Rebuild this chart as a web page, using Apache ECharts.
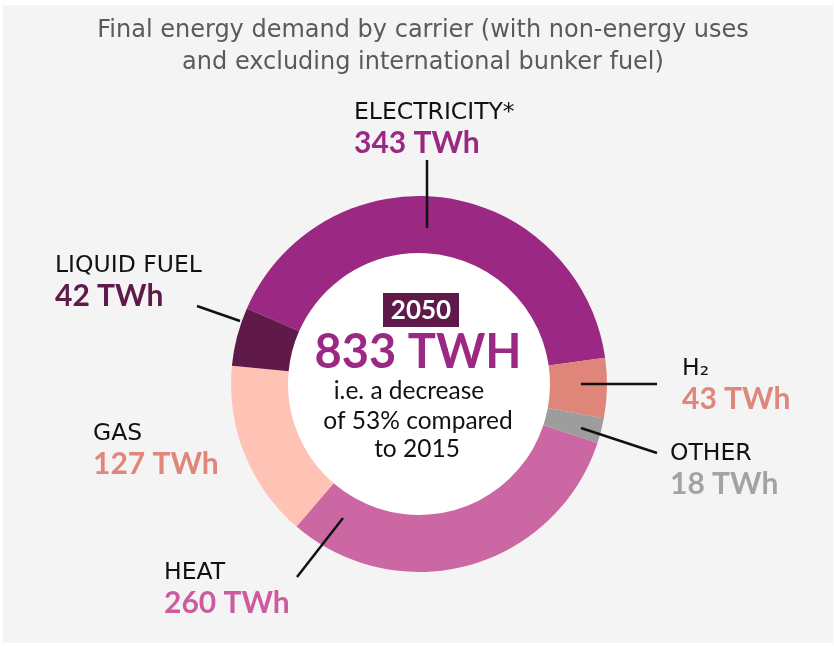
<!DOCTYPE html>
<html>
<head>
<meta charset="utf-8">
<script src="https://cdn.jsdelivr.net/npm/echarts@6/dist/echarts.min.js"></script>
<style>
html,body{margin:0;padding:0;background:#ffffff;}
#chart{width:834px;height:646px;}
</style>
</head>
<body>
<div id="chart"></div>
<script>
// ---- data ----
const categories = ['ELECTRICITY*', 'H\u2082', 'OTHER', 'HEAT', 'GAS', 'LIQUID FUEL'];
const values = [343, 43, 18, 260, 127, 42];
const unit = 'TWh';
const totalLabel = '833 TWH';
const yearLabel = '2050';
const noteLines = ['i.e. a decrease', 'of 53% compared', 'to 2015'];
const titleLines = ['Final energy demand by carrier (with non-energy uses', 'and excluding international bunker fuel)'];

// ---- styles ----
const sliceColors = ['#9b2983', '#df857a', '#9d9d9d', '#cb68a3', '#fec3b5', '#5f1a49'];
const valueColors = ['#9b2983', '#e0877b', '#a3a3a3', '#cc5c9e', '#e0877b', '#5f1a49'];
const labelPos = [[354, 99], [682, 355], [670, 440], [164, 559], [93, 420], [55, 252]];
const leaderLines = [
  [[427, 160], [427, 228]],
  [[657, 384], [581, 384]],
  [[657, 453], [581, 428]],
  [[297, 577], [343, 518]],
  [[197, 306], [240, 321]]
];

const rich = {
  n: { fontFamily: 'DejaVu Sans', fontSize: 23.5, color: '#111', lineHeight: 28, align: 'left' }
};
valueColors.forEach((c, i) => {
  rich['v' + i] = { fontFamily: 'Lato', fontWeight: 'bold', fontSize: 30, color: c, lineHeight: 32, align: 'left' };
});

const chart = echarts.init(document.getElementById('chart'), null, { renderer: 'canvas' });
const CX = 419, CY = 384;
const noteFont = { fontFamily: 'Lato', fontSize: 24.5, fill: '#111', align: 'center', verticalAlign: 'middle' };
const titleFont = { fontFamily: 'DejaVu Sans', fontSize: 24, fill: '#5a5a5a', align: 'center', verticalAlign: 'middle' };

const graphics = [
  { type: 'rect', z: -10, shape: { x: 3, y: 5, width: 830, height: 638 }, style: { fill: '#f4f4f4' }, silent: true },
  { type: 'text', x: 423, y: 31, style: Object.assign({ text: titleLines[0] }, titleFont) },
  { type: 'text', x: 423, y: 63, style: Object.assign({ text: titleLines[1] }, titleFont) },
  { type: 'rect', z: 10, shape: { x: 383, y: 293, width: 76, height: 34 }, style: { fill: '#5f1a49' } },
  { type: 'text', z: 11, x: 421, y: 311, style: { text: yearLabel, fontFamily: 'Lato', fontWeight: 'bold', fontSize: 26, fill: '#ffffff', align: 'center', verticalAlign: 'middle' } },
  { type: 'text', z: 11, x: 418, y: 353, style: { text: totalLabel, fontFamily: 'Lato', fontWeight: 'bold', fontSize: 47, fill: '#9b2983', align: 'center', verticalAlign: 'middle' } },
  { type: 'text', z: 11, x: 409, y: 391, style: Object.assign({ text: noteLines[0] }, noteFont) },
  { type: 'text', z: 11, x: 418, y: 421, style: Object.assign({ text: noteLines[1] }, noteFont) },
  { type: 'text', z: 11, x: 417, y: 449, style: Object.assign({ text: noteLines[2] }, noteFont) }
];
leaderLines.forEach(pts => {
  graphics.push({ type: 'polyline', z: 100, silent: true, shape: { points: pts }, style: { stroke: '#111', lineWidth: 2.5, fill: null } });
});

chart.setOption({
  animation: false,
  graphic: graphics,
  series: [
    {
      type: 'pie',
      silent: true,
      center: [CX, CY],
      radius: [0, 131],
      z: 1,
      label: { show: false },
      labelLine: { show: false },
      itemStyle: { color: '#ffffff' },
      data: [{ value: 1, name: 'center' }]
    },
    {
      type: 'pie',
      center: [CX, CY],
      radius: [131, 188],
      startAngle: 156.3,
      clockwise: true,
      avoidLabelOverlap: false,
      z: 2,
      itemStyle: { borderWidth: 0 },
      label: {
        show: true,
        position: 'outside',
        formatter: p => '{n|' + p.name + '}\n{v' + p.dataIndex + '|' + p.value + ' ' + unit + '}',
        rich: rich
      },
      labelLine: { show: false },
      labelLayout: p => {
        const i = p.dataIndex;
        return { x: labelPos[i][0], y: labelPos[i][1], align: 'left', verticalAlign: 'top' };
      },
      data: categories.map((c, i) => ({
        name: c,
        value: values[i],
        itemStyle: { color: sliceColors[i] }
      }))
    }
  ]
});
</script>
</body>
</html>
